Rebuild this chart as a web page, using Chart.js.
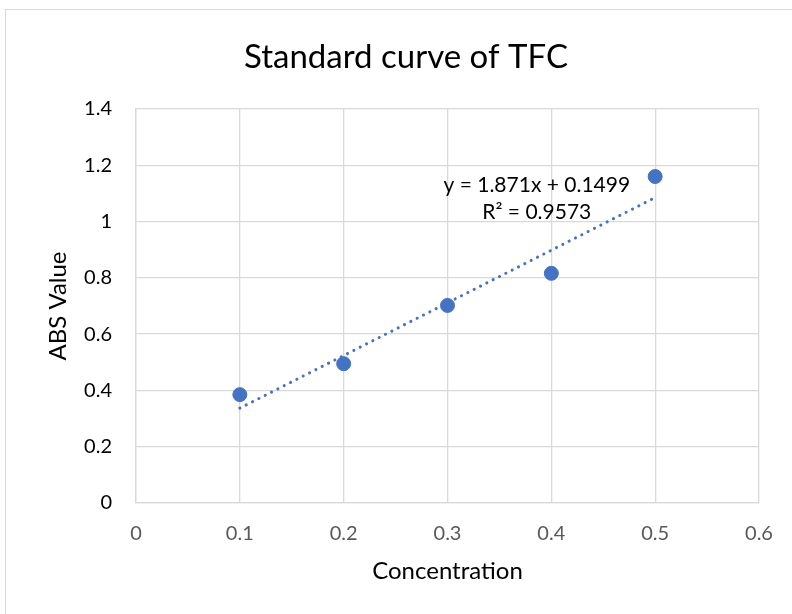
<!DOCTYPE html>
<html>
<head>
<meta charset="utf-8">
<script src="https://cdn.jsdelivr.net/npm/chart.js@4.4.1/dist/chart.umd.min.js"></script>
<style>
  html, body { margin: 0; padding: 0; background: #fff; }
  #wrap { position: relative; width: 792px; height: 614px; overflow: hidden; }
  #frame { position: absolute; left: 5px; top: 9px; width: 800px; height: 700px;
           border-top: 1px solid #d9d9d9; border-left: 1px solid #d9d9d9; }
  canvas { position: absolute; left: 0; top: 0; }
</style>
</head>
<body>
<div id="wrap">
  <div id="frame"></div>
  <canvas id="chart" width="792" height="614"></canvas>
</div>
<script>
const concentration = [0.1, 0.2, 0.3, 0.4, 0.5];
const absValue = [0.385, 0.495, 0.702, 0.816, 1.16];
const slope = 1.871;
const intercept = 0.1499;
const rSquared = 0.9573;
const xTicks = [0, 0.1, 0.2, 0.3, 0.4, 0.5, 0.6];
const yTicks = [0, 0.2, 0.4, 0.6, 0.8, 1, 1.2, 1.4];
const chartTitle = 'Standard curve of TFC';

const blue = '#4472C4';
const fontFamily = 'Lato, "Open Sans", sans-serif';

const points = concentration.map((x, i) => ({ x: x, y: absValue[i] }));
const xFirst = concentration[0];
const xLast = concentration[concentration.length - 1];
const trend = [
  { x: xFirst, y: slope * xFirst + intercept },
  { x: xLast, y: slope * xLast + intercept }
];

// chart title (centred on the whole frame, like Excel) and trendline label
const extraText = {
  id: 'extraText',
  afterDatasetsDraw(chart) {
    const { ctx, scales } = chart;
    ctx.save();
    ctx.fillStyle = '#000';
    ctx.textAlign = 'center';
    ctx.textBaseline = 'middle';

    ctx.font = '33px ' + fontFamily;
    ctx.fillText(chartTitle, 406, 57);

    const cx = scales.x.getPixelForValue(0.386);
    const cy = scales.y.getPixelForValue(1.13);
    ctx.font = '21px ' + fontFamily;
    ctx.fillText('y = ' + slope + 'x + ' + intercept, cx, cy);
    ctx.fillText('R² = ' + rSquared, cx, cy + 27);
    ctx.restore();
  }
};

new Chart(document.getElementById('chart'), {
  type: 'scatter',
  data: {
    datasets: [
      {
        label: 'Trend',
        data: trend,
        type: 'line',
        showLine: true,
        borderColor: blue,
        borderWidth: 3,
        borderDash: [0.1, 7],
        borderCapStyle: 'round',
        pointRadius: 0,
        fill: false
      },
      {
        label: 'ABS',
        data: points,
        backgroundColor: blue,
        borderColor: blue,
        pointRadius: 7,
        pointHoverRadius: 7
      }
    ]
  },
  options: {
    responsive: false,
    animation: false,
    layout: { padding: { left: 0, right: 33, top: 109, bottom: 0 } },
    plugins: {
      legend: { display: false },
      tooltip: { enabled: false },
      title: { display: false }
    },
    scales: {
      x: {
        type: 'linear',
        min: 0,
        max: 0.6,
        afterBuildTicks: s => { s.ticks = xTicks.map(v => ({ value: v })); },
        afterFit: s => { s.height = 111; },
        grid: { color: '#d9d9d9', lineWidth: 1.3, drawTicks: false },
        border: { color: '#d9d9d9', width: 1.3 },
        ticks: { color: '#595959', font: { family: fontFamily, size: 20 }, padding: 19,
                 callback: v => String(v) },
        title: {
          display: true,
          text: 'Concentration',
          color: '#000',
          font: { family: fontFamily, size: 24 },
          padding: { top: 0, bottom: 28 }
        }
      },
      y: {
        type: 'linear',
        min: 0,
        max: 1.4,
        afterBuildTicks: s => { s.ticks = yTicks.map(v => ({ value: v })); },
        afterFit: s => { s.width = 136; },
        grid: { color: '#d9d9d9', lineWidth: 1.3, drawTicks: false },
        border: { color: '#d9d9d9', width: 1.3 },
        ticks: { color: '#000', font: { family: fontFamily, size: 20 }, padding: 24,
                 callback: v => String(v) },
        title: {
          display: true,
          text: 'ABS Value',
          color: '#000',
          font: { family: fontFamily, size: 24 },
          padding: { top: 44, bottom: 0 }
        }
      }
    }
  },
  plugins: [extraText]
});
</script>
</body>
</html>
